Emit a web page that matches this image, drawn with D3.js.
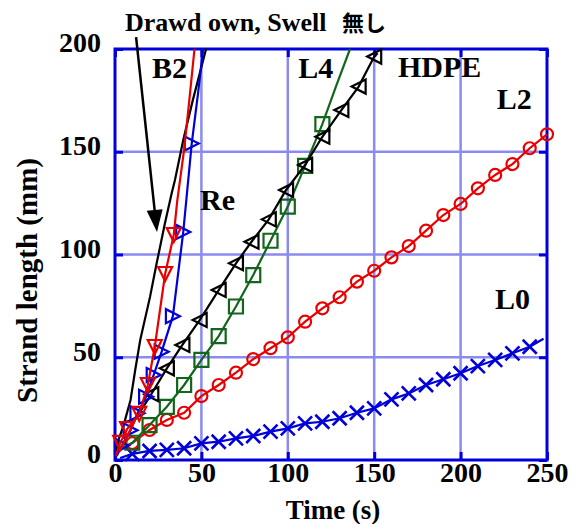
<!DOCTYPE html>
<html lang="ja">
<head>
<meta charset="UTF-8">
<title>Strand length vs time</title>
<style>
    body { margin: 0; background: #fff; }
    svg text { font-family: "Liberation Serif", "Times New Roman", serif; font-weight: bold; fill: #000; }
</style>
</head>
<body>
<svg id="chart" width="582" height="524"></svg>
<script src="https://d3js.org/d3.v7.min.js"></script>
<script>
// data: [time s, strand length mm]
const l0Marks = [[10,3],[20,4.4],[30,4.9],[40,5.7],[50,8.1],[60,8.9],[70,10.5],[80,11.7],[90,13.8],[100,15.4],[110,17.8],[120,18.6],[130,20.3],[140,23],[150,25.1],[160,29.5],[170,32.4],[180,36.5],[190,39.3],[200,42.2],[210,45.7],[220,48.7],[230,51.9],[240,55.1]];
const l0Line = [[3,1], ...l0Marks, [248,59]];

const l2Marks = [[10,8.2],[20,14.6],[30,19.5],[40,23],[50,31.1],[60,36.5],[70,42.5],[80,49.1],[90,54.4],[100,59.7],[110,67.3],[120,73.8],[130,79.2],[140,86.8],[150,92.1],[160,98.6],[170,104.1],[180,111.6],[190,119.2],[200,124.6],[210,132.2],[220,138.7],[230,144],[240,151.7],[250,158.5]];
const l2Line = [[3,5], ...l2Marks];

const l4Marks = [[10,8.4],[20,17],[30,25.9],[40,36.5],[50,48.7],[60,60.3],[70,74.7],[80,90],[90,106.7],[100,123.3],[110,143.1],[120,163.4]];
const l4Line = [[4,6], ...l4Marks, [128,182],[136,200]];

const hdpeMarks = [[21,32],[30,44.6],[39,56],[49,68.1],[60,82.7],[70,95.7],[79,106.2],[89,117.1],[99,131.4],[110,143.6],[120,157.3],[131,170.3],[141,181.7],[150,196.3]];
const hdpeLine = [[4,18],[12,20], ...hdpeMarks, [152,198]];

const b2Marks = [[3,8.3],[7,15],[14,22.4],[19,36.5],[23,55],[29,90.5],[34,109.5]];
const b2Line = [[0.5,2], ...b2Marks, [36,126],[40,151],[43,175],[46,200]];

const reMarks = [[4,7],[9,14.5],[13,22.7],[18,30.8],[22.4,41.4],[27,52.7],[33.5,70],[39.5,111],[44.4,154]];
const reLine = [[1,2], ...reMarks, [48,178],[51,200]];

const drawdownLine = [[0.5,3],[2,9.7],[5,17],[9,29.2],[11.7,43.8],[14.6,58.4],[20.3,79.5],[24.1,95.7],[28.9,115.2],[32.8,129.8],[34.7,136.3],[39.5,155.7],[45,175],[52.7,200]];

const xTicks = [0, 50, 100, 150, 200, 250];
const yTicks = [0, 50, 100, 150, 200];

const seriesLabels = [
    { text: "B2", t: 21.4, v: 185.9 },
    { text: "Re", t: 49.2, v: 121.7 },
    { text: "L4", t: 106.1, v: 185.9 },
    { text: "HDPE", t: 163.8, v: 186.4 },
    { text: "L2", t: 220.9, v: 170.8 },
    { text: "L0", t: 219.9, v: 73.5 }
];
// arrow: from above the frame down to the Drawdown curve
const arrowFrom = [12.2, 205.8];
const arrowTo = [24.3, 111];

const margin = { top: 49, right: 35, bottom: 64, left: 115 };
const width = 582 - margin.left - margin.right;
const height = 524 - margin.top - margin.bottom;

const svg = d3.select("#chart");
const g = svg.append("g").attr("transform", `translate(${margin.left},${margin.top})`);

const x = d3.scaleLinear().domain([0, 250]).range([0, width]);
const y = d3.scaleLinear().domain([0, 200]).range([height, 0]);

const gridColor = "#8a8af0";
const frameColor = "#0000dd";

// grid
g.append("g").selectAll("line").data(xTicks.slice(1, -1)).join("line")
    .attr("x1", d => x(d)).attr("x2", d => x(d)).attr("y1", 0).attr("y2", height)
    .attr("stroke", gridColor).attr("stroke-width", 2.5);
g.append("g").selectAll("line").data(yTicks.slice(1, -1)).join("line")
    .attr("y1", d => y(d)).attr("y2", d => y(d)).attr("x1", 0).attr("x2", width)
    .attr("stroke", gridColor).attr("stroke-width", 2.5);

// axes with inward ticks
const axB = d3.axisBottom(x).tickValues(xTicks).tickSize(-8).tickPadding(12).tickFormat(d3.format("d"));
const axL = d3.axisLeft(y).tickValues(yTicks).tickSize(-8).tickPadding(14).tickFormat(d3.format("d"));
const axT = d3.axisTop(x).tickValues(xTicks).tickSize(-8).tickFormat("");
const axR = d3.axisRight(y).tickValues(yTicks).tickSize(-8).tickFormat("");

function styleAxis(sel) {
    sel.attr("font-family", "Liberation Serif, serif");
    sel.select(".domain").remove();
    sel.selectAll(".tick line").attr("stroke", frameColor).attr("stroke-width", 3);
    sel.selectAll(".tick text").attr("font-size", 28).attr("fill", "#000")
        .style("font-family", "'Liberation Serif', serif").style("font-weight", "bold");
}
g.append("g").attr("transform", `translate(0,${height})`).call(axB).call(styleAxis)
    .selectAll(".tick text").attr("dy", "0.71em").attr("y", 2);
g.append("g").call(axL).call(styleAxis)
    .selectAll(".tick text").attr("dy", "0.1em");
g.append("g").call(axT).call(styleAxis);
g.append("g").attr("transform", `translate(${width},0)`).call(axR).call(styleAxis);

// frame
g.append("rect").attr("width", width).attr("height", height)
    .attr("fill", "none").attr("stroke", frameColor).attr("stroke-width", 3);

// axis titles
svg.append("text").attr("x", margin.left + width / 2 + 2).attr("y", 519)
    .attr("text-anchor", "middle").attr("font-size", 27).text("Time (s)");
svg.append("text").attr("transform", `translate(37,${margin.top + height / 2 + 26}) rotate(-90)`)
    .attr("text-anchor", "middle").attr("font-size", 29).text("Strand length (mm)");

// clip
svg.append("defs").append("clipPath").attr("id", "clip")
    .append("rect").attr("x", -8).attr("y", -8).attr("width", width + 16).attr("height", height + 16);
const plot = g.append("g").attr("clip-path", "url(#clip)");

const line = d3.line().x(d => x(d[0])).y(d => y(d[1]));

const red = "#e80000", blue = "#0000d8", green = "#12661c", black = "#000";

const series = [
    { line: l0Line, marks: l0Marks, color: blue, marker: "cross" },
    { line: l2Line, marks: l2Marks, color: red, marker: "circle" },
    { line: l4Line, marks: l4Marks, color: green, marker: "square" },
    { line: hdpeLine, marks: hdpeMarks, color: black, marker: "triLeft" },
    { line: drawdownLine, marks: [], color: black, marker: null },
    { line: reLine, marks: reMarks, color: blue, marker: "triRight" },
    { line: b2Line, marks: b2Marks, color: red, marker: "triDown" }
];

function markerPath(type) {
    const s = 7;
    switch (type) {
        case "cross": return `M${-s},${-s}L${s},${s}M${-s},${s}L${s},${-s}`;
        case "square": return `M${-s},${-s}H${s}V${s}H${-s}Z`;
        case "triLeft": return `M${-s},0L${s},${-s}L${s},${s}Z`;
        case "triRight": return `M${s},0L${-s},${-s}L${-s},${s}Z`;
        case "triDown": return `M0,${s}L${-s},${-s}L${s},${-s}Z`;
    }
}

series.forEach(sr => {
    plot.append("path").datum(sr.line).attr("d", line)
        .attr("fill", "none").attr("stroke", sr.color).attr("stroke-width", 2.2);
    const m = plot.append("g").selectAll("g").data(sr.marks).join("g")
        .attr("transform", d => `translate(${x(d[0])},${y(d[1])})`);
    if (sr.marker === "circle") {
        m.append("circle").attr("r", 6).attr("fill", "none").attr("stroke", sr.color).attr("stroke-width", 2.2);
    } else if (sr.marker) {
        m.append("path").attr("d", markerPath(sr.marker)).attr("fill", "none")
            .attr("stroke", sr.color).attr("stroke-width", sr.marker === "cross" ? 2.6 : 2.2);
    }
});

// series labels
g.append("g").selectAll("text").data(seriesLabels).join("text")
    .attr("x", d => x(d.t)).attr("y", d => y(d.v)).attr("font-size", 30).text(d => d.text);

// annotation
const note = svg.append("text").attr("x", 125).attr("y", 31).attr("font-size", 26);
note.append("tspan").text("Drawd own, Swell ");
note.append("tspan").attr("x", 342).style("font-family", "'Noto Sans CJK JP', sans-serif")
    .attr("font-size", 22).text("無し");

const ax0 = x(arrowFrom[0]), ay0 = y(arrowFrom[1]);
const ax1 = x(arrowTo[0]), ay1 = y(arrowTo[1]);
const ang = Math.atan2(ay1 - ay0, ax1 - ax0);
const headLen = 22, headW = 8;
const bx = ax1 - headLen * Math.cos(ang), by = ay1 - headLen * Math.sin(ang);
g.append("line").attr("x1", ax0).attr("y1", ay0).attr("x2", bx).attr("y2", by)
    .attr("stroke", "#000").attr("stroke-width", 2.5);
g.append("path")
    .attr("d", `M${ax1},${ay1}L${bx + headW * Math.sin(ang)},${by - headW * Math.cos(ang)}L${bx - headW * Math.sin(ang)},${by + headW * Math.cos(ang)}Z`)
    .attr("fill", "#000");
</script>
</body>
</html>
